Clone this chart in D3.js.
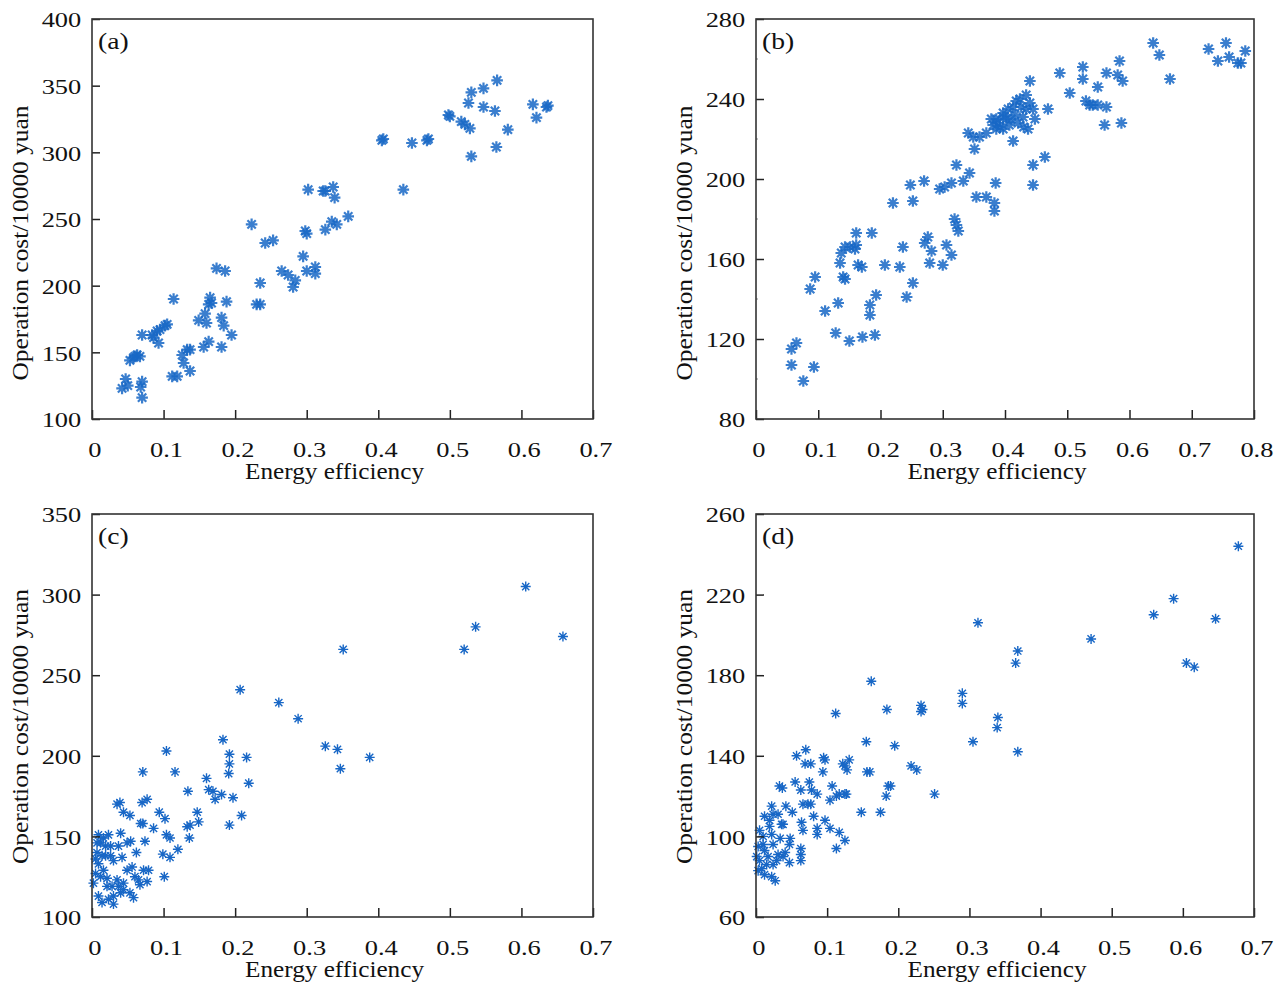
<!DOCTYPE html>
<html>
<head>
<meta charset="utf-8">
<script src="https://cdn.jsdelivr.net/npm/d3@7"></script>
<style>
  body { margin: 0; background: #fff; }
  text { font-family: "Liberation Serif", "Times New Roman", serif; fill: #111; }
</style>
</head>
<body>
<svg width="1276" height="986"></svg>
<script>
// (a) energy efficiency vs operation cost
const pointsA = [
  [0.042,123],[0.047,130],[0.05,125],[0.07,128],[0.068,124],[0.07,116],
  [0.053,144],[0.058,146],[0.063,148],[0.067,147],[0.06,147],
  [0.07,163],[0.084,163],[0.091,166],[0.095,167],[0.102,170],[0.105,171],[0.093,157],[0.086,161],
  [0.114,190],[0.112,132],[0.119,132],
  [0.126,148],[0.133,152],[0.137,152],[0.128,142],[0.137,136],
  [0.149,174],[0.158,179],[0.163,186],[0.165,191],[0.167,187],[0.16,172],[0.156,154],[0.163,158],
  [0.174,213],[0.186,211],[0.181,176],[0.184,170],[0.188,188],[0.195,163],[0.181,154],
  [0.223,246],[0.235,202],[0.23,186],[0.235,186],[0.242,232],[0.253,234],
  [0.265,211],[0.274,208],[0.281,199],[0.284,204],
  [0.295,222],[0.3,211],[0.312,214],[0.312,209],[0.298,241],[0.3,239],
  [0.302,272],[0.323,271],[0.326,271],[0.337,274],[0.339,266],
  [0.326,242],[0.335,248],[0.342,246],[0.358,252],
  [0.407,310],[0.405,309],[0.435,272],[0.447,307],[0.47,310],[0.468,309],
  [0.498,328],[0.5,327],[0.516,323],[0.521,321],[0.528,318],
  [0.526,337],[0.53,345],[0.547,348],[0.547,334],[0.53,297],
  [0.563,331],[0.565,304],[0.566,354],[0.581,317],
  [0.616,336],[0.621,326],[0.637,335],[0.635,334]
];

// (b)
const pointsB = [
  [0.057,107],[0.057,115],[0.065,118],[0.076,99],[0.093,106],[0.087,145],[0.095,151],
  [0.111,134],[0.128,123],[0.15,119],[0.171,121],[0.191,122],[0.132,138],
  [0.135,158],[0.137,163],[0.143,166],[0.151,166],[0.159,165],[0.161,167],[0.161,173],[0.186,173],
  [0.14,151],[0.143,150],[0.164,157],[0.17,156],[0.183,137],[0.183,132],[0.193,142],
  [0.207,157],[0.231,156],[0.236,166],[0.242,141],[0.252,148],
  [0.22,188],[0.248,197],[0.252,189],[0.27,199],
  [0.271,168],[0.276,171],[0.282,164],[0.279,158],[0.3,157],[0.306,167],[0.314,162],
  [0.295,195],[0.303,196],[0.314,198],[0.333,199],[0.343,203],
  [0.319,180],[0.322,177],[0.325,174],[0.322,207],
  [0.354,191],[0.37,191],[0.383,188],[0.383,184],[0.385,198],
  [0.341,223],[0.349,221],[0.359,221],[0.37,223],[0.381,227],[0.386,230],[0.397,233],
  [0.405,235],[0.413,236],[0.418,239],[0.424,240],[0.434,242],[0.44,238],[0.445,235],
  [0.434,235],[0.429,231],[0.421,228],[0.407,227],[0.397,225],[0.386,225],[0.397,231],
  [0.41,230],[0.437,225],[0.448,230],[0.413,219],[0.351,215],[0.44,249],[0.469,235],
  [0.389,228],[0.402,230],[0.378,230],[0.392,226],[0.416,232],[0.426,236],[0.43,226],
  [0.445,207],[0.464,211],[0.445,197],
  [0.488,253],[0.504,243],[0.525,256],[0.525,250],[0.549,246],[0.563,253],
  [0.53,239],[0.536,237],[0.541,237],[0.549,237],[0.563,236],[0.56,227],[0.587,228],
  [0.584,259],[0.581,252],[0.589,249],
  [0.638,268],[0.648,262],[0.665,250],
  [0.727,265],[0.742,259],[0.755,268],[0.76,261],[0.774,258],[0.779,258],[0.786,264]
];

// (c)
const pointsC = [
  [0.606,305],[0.536,280],[0.52,266],[0.658,274],[0.351,266],[0.207,241],[0.261,233],
  [0.288,223],[0.326,206],[0.343,204],[0.347,192],[0.388,199],
  [0.183,210],[0.192,201],[0.192,195],[0.191,189],[0.216,199],[0.219,183],[0.197,174],
  [0.209,163],[0.192,157],[0.16,186],[0.163,179],[0.169,178],[0.172,173],[0.181,176],
  [0.134,178],[0.104,203],[0.071,190],[0.116,190],[0.147,165],[0.149,159],
  [0.133,156],[0.137,157],[0.136,149],[0.12,142],[0.109,137],[0.099,139],[0.104,151],[0.109,149],
  [0.101,125],[0.094,165],[0.102,161],[0.086,155],[0.071,158],[0.068,158],
  [0.07,171],[0.077,173],[0.039,171],[0.035,170],[0.044,165],[0.053,163],[0.04,152],
  [0.074,147],[0.054,147],[0.062,140],
  [0.009,151],[0.016,149],[0.023,151],[0.012,146],[0.019,144],[0.007,140],[0.014,138],
  [0.026,138],[0.009,133],[0.016,129],[0.005,127],[0.012,125],[0.021,124],[0.03,135],
  [0.037,144],[0.042,137],[0.035,123],[0.044,121],[0.037,119],[0.028,119],[0.03,113],
  [0.023,111],[0.014,109],[0.009,113],[0.03,108],[0.049,129],[0.056,131],[0.06,125],
  [0.065,123],[0.067,120],[0.079,129],[0.072,129],[0.077,122],[0.058,112],[0.053,115],
  [0.044,117],[0.04,115],[0.049,146],[0.005,136],[0.002,121],[0.021,119],[0.007,146],
  [0.026,144],[0.019,138]
];

// (d)
const pointsD = [
  [0.678,244],[0.587,218],[0.559,210],[0.646,208],[0.605,186],[0.616,184],[0.471,198],
  [0.312,206],[0.368,192],[0.365,186],[0.162,177],[0.112,161],[0.184,163],
  [0.232,165],[0.234,163],[0.232,162],[0.29,171],[0.29,166],[0.34,159],[0.339,154],
  [0.305,147],[0.368,142],[0.155,147],[0.195,145],[0.218,135],[0.226,133],[0.251,121],
  [0.156,132],[0.16,132],[0.186,125],[0.189,125],[0.183,120],[0.148,112],[0.175,112],
  [0.057,140],[0.07,143],[0.069,136],[0.077,136],[0.095,139],[0.097,138],[0.094,132],
  [0.122,136],[0.125,135],[0.128,133],[0.131,138],
  [0.033,125],[0.037,124],[0.055,127],[0.063,123],[0.075,127],[0.078,123],[0.086,121],
  [0.107,125],[0.104,118],[0.113,120],[0.117,121],[0.125,121],[0.127,121],
  [0.066,116],[0.073,116],[0.077,116],[0.042,115],[0.051,112],[0.064,107],[0.066,103],
  [0.081,110],[0.086,104],[0.086,101],[0.097,108],[0.104,104],[0.117,102],[0.125,98],[0.113,94],
  [0.063,94],[0.063,91],[0.063,88],[0.048,99],[0.047,96],[0.047,87],
  [0.022,115],[0.024,111],[0.019,108],[0.031,111],[0.036,106],[0.038,106],[0.012,110],
  [0.005,103],[0.01,100],[0.022,101],[0.034,99],[0.003,95],[0.012,93],[0.024,96],
  [0.031,91],[0.038,90],[0.005,88],[0.015,86],[0.024,86],[0.003,83],[0.012,81],
  [0.022,80],[0.027,78],[0.008,84],[0.029,88],[0.017,90],[0.01,96],[0.001,90],
  [0.041,92],[0.019,105]
];

const xTicksA = [0, 0.1, 0.2, 0.3, 0.4, 0.5, 0.6, 0.7];
const xTicksB = [0, 0.1, 0.2, 0.3, 0.4, 0.5, 0.6, 0.7, 0.8];
const yTicksA = [100, 150, 200, 250, 300, 350, 400];
const yTicksB = [80, 120, 160, 200, 240, 280];
const yMinorB = [100, 140, 180, 220, 260];
const yTicksC = [100, 150, 200, 250, 300, 350];
const yTicksD = [60, 100, 140, 180, 220, 260];

const svg = d3.select("svg");

const panels = [
  { label: "(a)", pts: pointsA, x0: 92, x1: 593, y0: 19, y1: 419, xd: [0, 0.7], yd: [100, 400], xt: xTicksA, yt: yTicksA, r: 5.8, sw: 2.2, op: 0.85, yOff: 24 },
  { label: "(b)", pts: pointsB, x0: 756, x1: 1254, y0: 19, y1: 419, xd: [0, 0.8], yd: [80, 280], xt: xTicksB, yt: yTicksB, minor: yMinorB, r: 5.8, sw: 2.2, op: 0.85, yOff: 24 },
  { label: "(c)", pts: pointsC, x0: 92, x1: 593, y0: 514, y1: 917, xd: [0, 0.7], yd: [100, 350], xt: xTicksA, yt: yTicksC, r: 5, sw: 1.4, op: 1, yOff: 11 },
  { label: "(d)", pts: pointsD, x0: 756, x1: 1254, y0: 514, y1: 917, xd: [0, 0.7], yd: [60, 260], xt: xTicksA, yt: yTicksD, r: 5, sw: 1.4, op: 1, yOff: 11 }
];

function star(r) {
  const k = r * 0.72;
  return `M${-r},0L${r},0M0,${-r}L0,${r}M${-k},${-k}L${k},${k}M${-k},${k}L${k},${-k}`;
}

panels.forEach(p => {
  const x = d3.scaleLinear().domain(p.xd).range([p.x0, p.x1]);
  const y = d3.scaleLinear().domain(p.yd).range([p.y1, p.y0]);
  const g = svg.append("g");

  // puntos
  g.append("g").selectAll("path")
    .data(p.pts)
    .join("path")
    .attr("d", star(p.r))
    .attr("transform", d => `translate(${x(d[0])},${y(d[1])})`)
    .attr("fill", "none")
    .attr("stroke", "#1867c6")
    .attr("stroke-width", p.sw)
    .attr("stroke-opacity", p.op);

  // eje X (ticks hacia dentro)
  const ax = g.append("g")
    .attr("transform", `translate(0,${p.y1})`)
    .call(d3.axisBottom(x).tickValues(p.xt).tickFormat(d3.format("")).tickSize(-9).tickPadding(20));
  ax.select(".domain").remove();
  ax.selectAll("line").attr("stroke", "#222").attr("stroke-width", 1.5);
  ax.selectAll("text")
    .attr("x", 2)
    .attr("y", 22)
    .style("font-size", "22px")
    .attr("transform", "scale(1.2,1)");

  // eje Y
  const ay = g.append("g")
    .attr("transform", `translate(${p.x0},0)`)
    .call(d3.axisLeft(y).tickValues(p.yt).tickSize(-8).tickPadding(10));
  ay.select(".domain").remove();
  ay.selectAll("line").attr("stroke", "#222").attr("stroke-width", 1.5);
  ay.selectAll("text")
    .attr("x", -9)
    .attr("dy", "0.35em")
    .style("font-size", "22px")
    .attr("transform", "scale(1.2,1)");

  if (p.minor) {
    g.append("g").selectAll("line")
      .data(p.minor)
      .join("line")
      .attr("x1", p.x0).attr("x2", p.x0 + 2)
      .attr("y1", d => y(d)).attr("y2", d => y(d))
      .attr("stroke", "#888").attr("stroke-width", 1);
  }

  // marco
  g.append("rect")
    .attr("x", p.x0).attr("y", p.y0)
    .attr("width", p.x1 - p.x0).attr("height", p.y1 - p.y0)
    .attr("fill", "none").attr("stroke", "#333").attr("stroke-width", 1.6);

  // etiqueta del panel
  g.append("text")
    .attr("transform", `translate(${p.x0 + 6},${p.y0 + 30}) scale(1.2,1)`)
    .style("font-size", "23px")
    .text(p.label);

  // etiqueta eje X
  g.append("text")
    .attr("x", (p.x0 + p.x1) / 2 - 8)
    .attr("y", p.y1 + 60)
    .attr("text-anchor", "middle")
    .style("font-size", "23px")
    .attr("textLength", 179)
    .attr("lengthAdjust", "spacingAndGlyphs")
    .text("Energy efficiency");

  // etiqueta eje Y
  g.append("text")
    .attr("transform", `translate(${p.x0 - 64},${(p.y0 + p.y1) / 2 + p.yOff}) rotate(-90)`)
    .attr("text-anchor", "middle")
    .style("font-size", "23px")
    .attr("textLength", 275)
    .attr("lengthAdjust", "spacingAndGlyphs")
    .text("Operation cost/10000 yuan");
});
</script>
</body>
</html>
